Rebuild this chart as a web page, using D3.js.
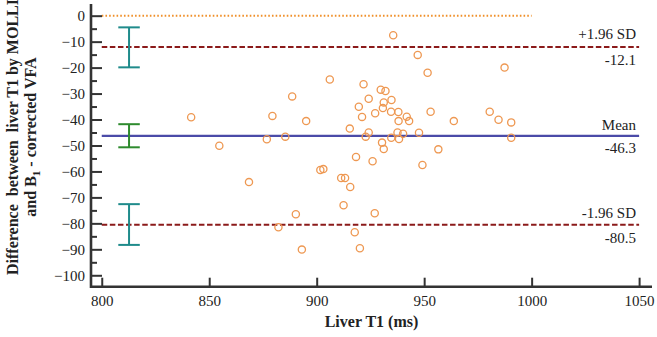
<!DOCTYPE html>
<html>
<head>
<meta charset="utf-8">
<script src="https://cdn.jsdelivr.net/npm/d3@7"></script>
<style>
  body { margin: 0; background: #fff; }
  svg text { font-family: "Liberation Serif", "Times New Roman", serif; }
</style>
</head>
<body>
<div id="chart"></div>
<script>
// Bland-Altman: liver T1 MOLLI vs B1-corrected VFA

// mean liver T1 (x) and difference (y) for each subject
const liverT1 = [841.6, 854.7, 868.5, 876.8, 879.4, 882.2, 885.4, 888.6, 890.3, 893.1,
    895.1, 901.7, 903.1, 906.1, 911.4, 913.2, 912.5, 915.4, 915.6, 917.7,
    918.3, 919.6, 920.1, 921.1, 921.8, 922.8, 924.2, 924.2, 926.0, 927.0,
    927.2, 929.8, 930.4, 930.8, 931.2, 931.2, 932.0, 934.6, 934.8, 934.7,
    935.6, 937.6, 938.0, 938.1, 938.3, 940.2, 941.9, 943.0, 947.0, 947.6,
    949.2, 951.6, 953.0, 956.6, 963.8, 980.5, 984.6, 987.4, 990.5, 990.5];
const diffT1 = [-39.1, -50.1, -64.1, -47.6, -38.6, -81.5, -46.6, -31.1, -76.5, -90.1,
    -40.6, -59.4, -59.1, -24.6, -62.5, -62.5, -73.0, -43.5, -66.0, -83.4,
    -54.4, -35.1, -89.6, -39.0, -26.4, -46.6, -32.0, -45.0, -56.1, -76.1,
    -37.6, -28.5, -48.9, -35.6, -33.4, -51.4, -29.0, -37.0, -32.5, -47.0,
    -7.55, -45.0, -37.1, -40.6, -47.5, -45.5, -38.9, -40.6, -15.1, -45.1,
    -57.5, -22.0, -37.0, -51.5, -40.6, -37.0, -40.1, -20.0, -41.1, -47.0];

// mean and limits of agreement
const meanDiff = -46.3;
const upperLoA = -12.1;
const lowerLoA = -80.5;

// 95% confidence intervals, drawn at x = ciX
const ciX = 812.7;
const ciLow = [-19.9, -50.7, -88.3];
const ciHigh = [-4.5, -41.8, -72.6];
const ciColors = ["#1f8b8b", "#2e8b2e", "#1f8b8b"];

const xTicks = [800, 850, 900, 950, 1000, 1050];
const yTicks = [0, -10, -20, -30, -40, -50, -60, -70, -80, -90, -100];
const yMinor = [-5, -15, -25, -35, -45, -55, -65, -75, -85, -95];

const w = 657, h = 337;
const svg = d3.select("#chart").append("svg")
    .attr("width", w)
    .attr("height", h);

const x = d3.scaleLinear().domain([795, 1056]).range([91, 652]);
const y = d3.scaleLinear().domain([4.5, -104.4]).range([4, 286.7]);

// zero line (dotted)
svg.append("line")
    .attr("x1", x(800)).attr("x2", x(1000))
    .attr("y1", y(0)).attr("y2", y(0))
    .attr("stroke", "#f0902a")
    .attr("stroke-width", 2)
    .attr("stroke-dasharray", "1.6,2.1");

// limits of agreement
[upperLoA, lowerLoA].forEach(v => {
    svg.append("line")
        .attr("x1", x(800)).attr("x2", x(1050))
        .attr("y1", y(v)).attr("y2", y(v))
        .attr("stroke", "#8b1a1a")
        .attr("stroke-width", 2)
        .attr("stroke-dasharray", "5.5,2.6");
});

// mean line
svg.append("line")
    .attr("x1", x(800)).attr("x2", x(1050))
    .attr("y1", y(meanDiff)).attr("y2", y(meanDiff))
    .attr("stroke", "#4b4ba8")
    .attr("stroke-width", 2.2);

// CI error bars
ciLow.forEach((lo, i) => {
    const g = svg.append("g")
        .attr("stroke", ciColors[i])
        .attr("stroke-width", 2);
    g.append("line")
        .attr("x1", x(ciX)).attr("x2", x(ciX))
        .attr("y1", y(lo)).attr("y2", y(ciHigh[i]));
    [lo, ciHigh[i]].forEach(v => {
        g.append("line")
            .attr("x1", x(ciX - 5)).attr("x2", x(ciX + 5))
            .attr("y1", y(v)).attr("y2", y(v));
    });
});

// points
svg.selectAll("circle")
    .data(liverT1)
    .enter()
    .append("circle")
    .attr("cx", d => x(d))
    .attr("cy", (d, i) => y(diffT1[i]))
    .attr("r", 3.6)
    .attr("fill", "none")
    .attr("stroke", "#ee9852")
    .attr("stroke-width", 1.3);

// line labels
const lineLabels = [
    ["+1.96 SD", upperLoA, -8],
    [upperLoA.toFixed(1), upperLoA, 18],
    ["Mean", meanDiff, -6],
    [meanDiff.toFixed(1), meanDiff, 17],
    ["-1.96 SD", lowerLoA, -7],
    [lowerLoA.toFixed(1), lowerLoA, 18]
];
svg.selectAll(".lbl")
    .data(lineLabels)
    .enter()
    .append("text")
    .attr("class", "lbl")
    .attr("x", 636)
    .attr("y", d => y(d[1]) + d[2])
    .attr("text-anchor", "end")
    .style("font-size", "15px")
    .style("fill", "#222")
    .text(d => d[0]);

// Y axis
const yAxis = svg.append("g")
    .attr("transform", "translate(91,0)")
    .call(d3.axisRight(y).tickValues(yTicks).tickSize(11).tickFormat(d3.format("d")));
yAxis.select(".domain").remove();
yAxis.selectAll(".tick text")
    .attr("x", -6)
    .attr("text-anchor", "end")
    .style("font-size", "15px")
    .style("font-family", "Liberation Serif, serif")
    .style("fill", "#222");
yAxis.selectAll(".tick line").attr("stroke", "#333").attr("stroke-width", 2);

svg.append("g")
    .attr("transform", "translate(91,0)")
    .call(d3.axisRight(y).tickValues(yMinor).tickSize(6).tickFormat(""))
    .call(g => g.select(".domain").remove())
    .selectAll(".tick line").attr("stroke", "#333").attr("stroke-width", 2);

// X axis
const xAxis = svg.append("g")
    .attr("transform", `translate(0,${y(-104.4)})`)
    .call(d3.axisTop(x).tickValues(xTicks).tickSize(9).tickFormat(d3.format("d")));
xAxis.select(".domain").remove();
xAxis.selectAll(".tick line").attr("stroke", "#333").attr("stroke-width", 2);
xAxis.selectAll(".tick text")
    .attr("y", 19)
    .attr("dy", 0)
    .style("font-size", "15px")
    .style("font-family", "Liberation Serif, serif")
    .style("fill", "#222");

// axis lines
svg.append("path")
    .attr("d", `M${x(795)},${y(4.5)}V${y(-104.4)}H${x(1056)}`)
    .attr("fill", "none")
    .attr("stroke", "#333")
    .attr("stroke-width", 2.6);

// titles
svg.append("text")
    .attr("x", (x(795) + x(1056)) / 2)
    .attr("y", 327)
    .attr("text-anchor", "middle")
    .style("font-size", "16px")
    .style("font-weight", "bold")
    .style("fill", "#222")
    .text("Liver T1 (ms)");

const yTitle = svg.append("text")
    .attr("transform", "translate(0,137) rotate(-90)")
    .attr("text-anchor", "middle")
    .style("font-size", "16px")
    .style("font-weight", "bold")
    .style("fill", "#222");
yTitle.append("tspan")
    .attr("x", 0).attr("y", 18)
    .attr("xml:space", "preserve")
    .text("Difference  between  liver T1 by MOLLI");
const l2 = yTitle.append("tspan").attr("x", 0).attr("y", 36);
l2.append("tspan").text("and B");
l2.append("tspan").attr("dy", 4).style("font-size", "11px").text("1");
l2.append("tspan").attr("dy", -4).text(" - corrected VFA");
</script>
</body>
</html>
